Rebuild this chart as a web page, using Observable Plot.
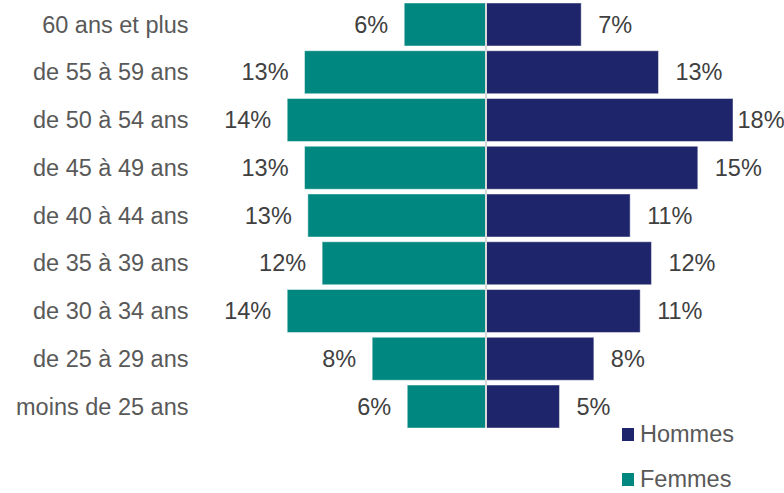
<!DOCTYPE html>
<html>
<head>
<meta charset="utf-8">
<script src="https://cdn.jsdelivr.net/npm/d3@7"></script>
<script src="https://cdn.jsdelivr.net/npm/@observablehq/plot@0.6"></script>
<style>
  html, body { margin: 0; padding: 0; background: #fff; }
  #wrap { position: relative; width: 784px; height: 493px; font-family: "Liberation Sans", Arial, sans-serif; }
  .leg { position: absolute; left: 622px; display: flex; align-items: center; font-size: 23.5px; color: #595959; line-height: 1; }
  .sw { width: 12px; height: 13px; margin-right: 6px; }
</style>
</head>
<body>
<div id="wrap"></div>
<script>
const ages = ["60 ans et plus", "de 55 à 59 ans", "de 50 à 54 ans", "de 45 à 49 ans", "de 40 à 44 ans", "de 35 à 39 ans", "de 30 à 34 ans", "de 25 à 29 ans", "moins de 25 ans"];
const femmes = [5.91, 13.16, 14.42, 13.16, 12.92, 11.88, 14.42, 8.24, 5.69];
const hommes = [6.96, 12.58, 18.0, 15.44, 10.52, 12.07, 11.25, 7.88, 5.38];
const series = ["Hommes", "Femmes"];
const colors = ["#1f256a", "#00877f"];

const rowsF = ages.map((a, i) => ({age: a, v: femmes[i]}));
const rowsH = ages.map((a, i) => ({age: a, v: hommes[i]}));

const pxPer = 13.75;
const gap = 16.5 / pxPer;
const maxLabelX = (737 - 485.5) / pxPer;

const chart = Plot.plot({
  width: 784,
  height: 432,
  marginLeft: 200,
  marginRight: 0,
  marginTop: 3,
  marginBottom: 4,
  style: {fontFamily: "'Liberation Sans', Arial, sans-serif", fontSize: "23.5px", background: "#fff"},
  x: {domain: [-285.5 / pxPer, 298.5 / pxPer], axis: null},
  y: {domain: ages, paddingInner: 0.1, paddingOuter: 0, round: false, axis: null},
  marks: [
    Plot.barX(rowsF, {y: "age", x1: 0, x2: d => -d.v, fill: colors[1], stroke: "#fff", strokeOpacity: 0.45, strokeWidth: 1}),
    Plot.barX(rowsH, {y: "age", x1: 0, x2: d => d.v, fill: colors[0], stroke: "#fff", strokeOpacity: 0.45, strokeWidth: 1}),
    Plot.ruleX([0], {stroke: "#d9d9d9", strokeWidth: 2}),
    Plot.text(rowsF, {y: "age", x: d => -d.v - gap, text: d => Math.round(d.v) + "%", textAnchor: "end", fill: "#404040", fontSize: 23.5}),
    Plot.text(rowsH, {y: "age", x: d => Math.min(d.v + gap, maxLabelX), text: d => Math.round(d.v) + "%", textAnchor: "start", fill: "#404040", fontSize: 23.5}),
    Plot.axisY({tickSize: 0, tickPadding: 12, fontSize: 23.5, fill: "#595959", label: null})
  ]
});

const wrap = document.getElementById("wrap");
wrap.appendChild(chart);

const tops = [423, 468];
series.forEach((s, i) => {
  const d = document.createElement("div");
  d.className = "leg";
  d.style.top = tops[i] + "px";
  const sw = document.createElement("span");
  sw.className = "sw";
  sw.style.background = colors[i];
  const t = document.createElement("span");
  t.textContent = s;
  d.appendChild(sw);
  d.appendChild(t);
  wrap.appendChild(d);
});
</script>
</body>
</html>
